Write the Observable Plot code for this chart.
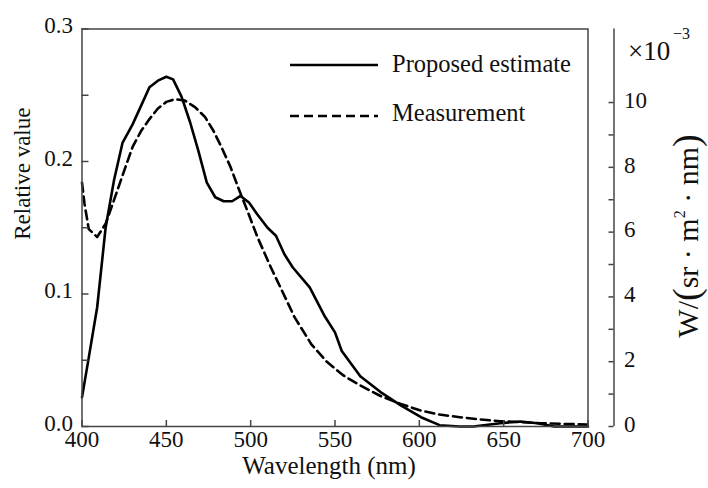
<!DOCTYPE html>
<html><head><meta charset="utf-8">
<script src="https://cdn.jsdelivr.net/npm/d3@7"></script>
<script src="https://cdn.jsdelivr.net/npm/@observablehq/plot@0.6"></script>
<style>
html,body{margin:0;padding:0;background:#fff;}
#chart{position:relative;width:708px;height:488px;overflow:hidden;}
#chart svg{display:block;}
.overlay{position:absolute;left:0;top:0;pointer-events:none;}
</style></head><body>
<div id="chart"></div>
<script>
// ---- data ----
const seriesNames = ["Proposed estimate", "Measurement"];
const estimateWavelength = [400,404,409,414,419,424,430,435,440,445,450,454,459,464,469,474,479,484,489,494,499,504,510,515,520,525,535,544,550,554,565,577,589,601,612,624,632,648,660,670,680,688,700];
const estimateValue =      [0.022,0.052,0.090,0.150,0.186,0.214,0.228,0.242,0.256,0.261,0.264,0.262,0.249,0.230,0.208,0.184,0.173,0.170,0.170,0.174,0.169,0.160,0.150,0.144,0.130,0.120,0.105,0.083,0.071,0.057,0.038,0.026,0.016,0.007,0.001,0.000,0.000,0.0025,0.0038,0.0025,0.000,0.000,0.000];
const measurementWavelength = [400,401.5,404,409,414,419,425,430,435,440,445,450,455,461,467,473,478,483,488,493,498,504,512,518,526,536,545,555,565,577,589,601,612,624,636,648,660,672,684,700];
const measurementValue =      [0.184,0.168,0.149,0.143,0.153,0.171,0.193,0.211,0.223,0.232,0.240,0.245,0.247,0.246,0.241,0.2335,0.223,0.210,0.196,0.179,0.163,0.143,0.120,0.104,0.0825,0.062,0.049,0.0385,0.031,0.023,0.017,0.012,0.009,0.007,0.0053,0.004,0.0033,0.0025,0.002,0.0015];
const xTicks = [400,450,500,550,600,650,700];
const yTicksMajor = [0, 0.1, 0.2, 0.3];
const yTicksMinor = [0.05, 0.15, 0.25];
const rightTicks = [0,1,2,3,4,5,6,7,8,9,10];
const rightLabels = [0,2,4,6,8,10];
const leftMax = 0.3;
const rightMax = 12.27; // ×10^-3 W/(sr·m²·nm) at the top of the frame

// ---- layout ----
const W = 708, H = 488, mL = 81.5, mR = 120.5, mT = 28.5, mB = 62;
const fw = W - mL - mR, fh = H - mT - mB;
const toLeft = k => k * leftMax / rightMax;
const axisColor = "#444", textColor = "#111";
const font = "Liberation Serif";
const T = {fontFamily: font, fill: textColor};

const est = estimateWavelength.map((w, i) => ({w, v: estimateValue[i], s: seriesNames[0]}));
const meas = measurementWavelength.map((w, i) => ({w, v: measurementValue[i], s: seriesNames[1]}));

const chart = Plot.plot({
  width: W, height: H,
  marginLeft: mL, marginRight: mR, marginTop: mT, marginBottom: mB,
  style: {fontFamily: font, background: "white", color: textColor},
  x: {domain: [400, 700], axis: null},
  y: {domain: [0, leftMax], axis: null},
  marks: [
    Plot.line(est, {x: "w", y: "v", stroke: "#000", strokeWidth: 2.6}),
    Plot.line(meas, {x: "w", y: "v", stroke: "#000", strokeWidth: 2.6, strokeDasharray: "9,5"}),
    Plot.frame({stroke: axisColor, strokeWidth: 1.5}),
    Plot.tickY([...yTicksMajor, ...yTicksMinor], {y: d => d, stroke: axisColor, strokeWidth: 1.5, insetRight: fw - 7}),
    Plot.tickX(xTicks, {x: d => d, stroke: axisColor, strokeWidth: 1.5, insetTop: fh - 6}),
    Plot.text(yTicksMajor, {...T, y: d => d, text: d => d.toFixed(1), frameAnchor: "left", textAnchor: "end", dx: -9, dy: -3, fontSize: 23}),
    Plot.text(xTicks, {...T, x: d => d, text: d => String(d), frameAnchor: "bottom", lineAnchor: "top", dy: 4, fontSize: 23}),
    // secondary (right) axis
    Plot.ruleX([700], {dx: 26, stroke: axisColor, strokeWidth: 1.5}),
    Plot.tickY(rightTicks, {y: d => toLeft(d), dx: 26, insetLeft: fw - 5, stroke: axisColor, strokeWidth: 1.5}),
    Plot.text(rightLabels, {...T, y: d => toLeft(d), text: d => String(d), frameAnchor: "right", textAnchor: "start", dx: 36, dy: -2, fontSize: 23}),
    Plot.text(["×10"], {...T, frameAnchor: "top-right", textAnchor: "start", dx: 40, dy: 12, fontSize: 27}),
    Plot.text(["−3"], {...T, frameAnchor: "top-right", textAnchor: "start", dx: 85, dy: -1, fontSize: 16}),
    // axis titles
    Plot.text(["Wavelength (nm)"], {...T, frameAnchor: "bottom", dx: -6, dy: 47, fontSize: 25}),
    Plot.text(["Relative value"], {...T, frameAnchor: "left", rotate: -90, dx: -59, dy: 12, fontSize: 23})
  ]
});
const host = document.getElementById("chart");
host.appendChild(chart);

// ---- legend and right-axis unit label (overlay) ----
const ns = "http://www.w3.org/2000/svg";
const ov = document.createElementNS(ns, "svg");
ov.setAttribute("class", "overlay");
ov.setAttribute("width", W); ov.setAttribute("height", H);
ov.style.fontFamily = "'Liberation Serif', serif";
const legendY = [65, 116], legendDash = [null, "9,5"], legendTextY = [72, 121];
seriesNames.forEach((name, i) => {
  const l = document.createElementNS(ns, "line");
  l.setAttribute("x1", 290); l.setAttribute("x2", 378);
  l.setAttribute("y1", legendY[i]); l.setAttribute("y2", legendY[i]);
  l.setAttribute("stroke", "#000"); l.setAttribute("stroke-width", 2.6);
  if (legendDash[i]) l.setAttribute("stroke-dasharray", legendDash[i]);
  ov.appendChild(l);
  const t = document.createElementNS(ns, "text");
  t.setAttribute("x", 392); t.setAttribute("y", legendTextY[i]);
  t.setAttribute("font-size", 24.5); t.setAttribute("fill", textColor);
  t.textContent = name;
  ov.appendChild(t);
});
const unit = document.createElementNS(ns, "text");
unit.setAttribute("transform", "translate(698,236) rotate(-90)");
unit.setAttribute("text-anchor", "middle");
unit.setAttribute("font-size", 30);
unit.setAttribute("fill", textColor);
unit.innerHTML = 'W/<tspan font-size="38" dy="1">(</tspan><tspan dy="-1">sr · m</tspan><tspan font-size="16" dy="-13">2</tspan><tspan dy="13"> · nm</tspan><tspan font-size="38" dy="1">)</tspan>';
ov.appendChild(unit);
host.appendChild(ov);
</script>
</body></html>
